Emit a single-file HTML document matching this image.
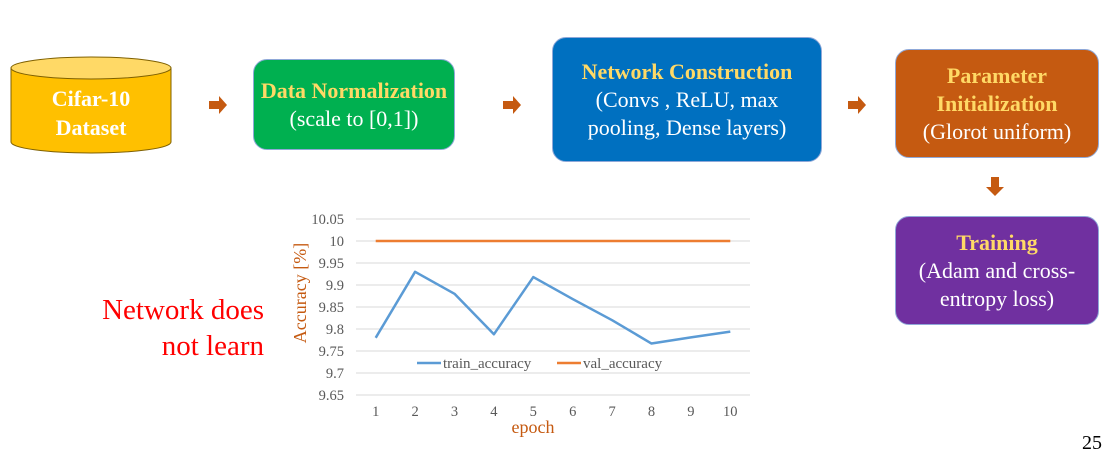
<!DOCTYPE html>
<html><head><meta charset="utf-8">
<style>
body{margin:0;width:1106px;height:440px;background:#fff;position:relative;overflow:hidden;font-family:"Liberation Serif",serif}
.box{position:absolute;border-radius:14px;border:1px solid #8fa8d8;box-sizing:border-box;display:flex;flex-direction:column;justify-content:center;align-items:center;text-align:center;color:#fff;font-size:22px;line-height:28px;white-space:nowrap}
.t{color:#ffd966;font-weight:bold}
</style></head><body>
<svg width="1106" height="440" style="position:absolute;left:0;top:0">
  <g>
    <path d="M11,68 L11,142 A80,11 0 0 0 171,142 L171,68" fill="#ffc000" stroke="#7f6000" stroke-width="1"/>
    <ellipse cx="91" cy="68" rx="80" ry="11" fill="#ffd966" stroke="#7f6000" stroke-width="1"/>
    <text x="91" y="106" text-anchor="middle" fill="#fff" font-weight="bold" font-size="22" font-family="Liberation Serif">Cifar-10</text>
    <text x="91" y="135" text-anchor="middle" fill="#fff" font-weight="bold" font-size="22" font-family="Liberation Serif">Dataset</text>
  </g>
  <g fill="#c55a11">
    <path d="M209,101 h10 v-5 l8,9 l-8,9 v-5 h-10z"/>
    <path d="M503,101 h10 v-5 l8,9 l-8,9 v-5 h-10z"/>
    <path d="M848,101 h10 v-5 l8,9 l-8,9 v-5 h-10z"/>
    <path d="M991,177 h8 v10 h5 l-9,9 l-9,-9 h5z"/>
  </g>
</svg>
<div class="box" style="left:253px;top:59px;width:202px;height:91px;background:#00b050"><div class="t">Data Normalization</div><div>(scale to [0,1])</div></div>
<div class="box" style="left:552px;top:37px;width:270px;height:125px;background:#0070c0"><div class="t">Network Construction</div><div>(Convs , ReLU, max</div><div>pooling, Dense layers)</div></div>
<div class="box" style="left:895px;top:49px;width:204px;height:109px;background:#c55a11"><div class="t">Parameter</div><div class="t">Initialization</div><div>(Glorot uniform)</div></div>
<div class="box" style="left:895px;top:216px;width:204px;height:109px;background:#7030a0"><div class="t">Training</div><div>(Adam and cross-</div><div>entropy loss)</div></div>
<div style="position:absolute;right:842px;top:292px;color:#ff0000;font-size:29px;line-height:36px;text-align:right;white-space:nowrap">Network does<br>not learn</div>
<div style="position:absolute;left:1082px;top:432px;font-size:20px;color:#000">25</div>
<svg id="chart" width="1106" height="440" style="position:absolute;left:0;top:0"></svg>
<script>
const epochs=[1,2,3,4,5,6,7,8,9,10];
const trainAcc=[9.78,9.93,9.88,9.788,9.918,9.868,9.82,9.767,9.781,9.794];
const valAcc=[10,10,10,10,10,10,10,10,10,10];
const yTicks=[9.65,9.7,9.75,9.8,9.85,9.9,9.95,10,10.05];
const yTickLabels=["9.65","9.7","9.75","9.8","9.85","9.9","9.95","10","10.05"];
const svg=document.getElementById('chart');
const NS='http://www.w3.org/2000/svg';
const X0=356,X1=750,Y0=395,Y1=219;
const yMin=9.65,yMax=10.05;
function xs(i){return X0+(i+0.5)*(X1-X0)/epochs.length;}
function ys(v){return Y0-(v-yMin)/(yMax-yMin)*(Y0-Y1);}
function mk(tag,attrs){const e=document.createElementNS(NS,tag);for(const k in attrs)e.setAttribute(k,attrs[k]);svg.appendChild(e);return e;}
yTicks.forEach((t,i)=>{
  const g=mk('line',{x1:X0,x2:X1,y1:ys(t),y2:ys(t),stroke:'#d9d9d9','stroke-width':1});
  
  
  const l=mk('text',{x:X0-12,y:ys(t)+5,'text-anchor':'end','font-size':14.5,fill:'#595959','font-family':'Liberation Serif'});
  l.textContent=yTickLabels[i];
  
  
});
epochs.forEach((e,i)=>{
  const l=mk('text',{x:xs(i),y:416,'text-anchor':'middle','font-size':14.5,fill:'#595959','font-family':'Liberation Serif'});
  l.textContent=e;
  
  
});
const vp=mk('polyline',{points:valAcc.map((v,i)=>xs(i)+','+ys(v)).join(' '),fill:'none',stroke:'#ed7d31','stroke-width':2.5});


const tp=mk('polyline',{points:trainAcc.map((v,i)=>xs(i)+','+ys(v)).join(' '),fill:'none',stroke:'#5b9bd5','stroke-width':2.5,'stroke-linejoin':'round'});


const lg1=mk('line',{x1:417,x2:441,y1:363,y2:363,stroke:'#5b9bd5','stroke-width':2.5});


const lt1=mk('text',{x:443,y:368,'font-size':15,fill:'#595959','font-family':'Liberation Serif'});
lt1.textContent='train_accuracy';


const lg2=mk('line',{x1:557,x2:581,y1:363,y2:363,stroke:'#ed7d31','stroke-width':2.5});


const lt2=mk('text',{x:583,y:368,'font-size':15,fill:'#595959','font-family':'Liberation Serif'});
lt2.textContent='val_accuracy';


const xt=mk('text',{x:533,y:433,'text-anchor':'middle','font-size':18,fill:'#c55a11','font-family':'Liberation Serif'});
xt.textContent='epoch';


const yt=mk('text',{x:0,y:0,'text-anchor':'middle','font-size':18,fill:'#c55a11','font-family':'Liberation Serif',transform:'translate(306,293) rotate(-90)'});
yt.textContent='Accuracy [%]';


</script>
</body></html>
